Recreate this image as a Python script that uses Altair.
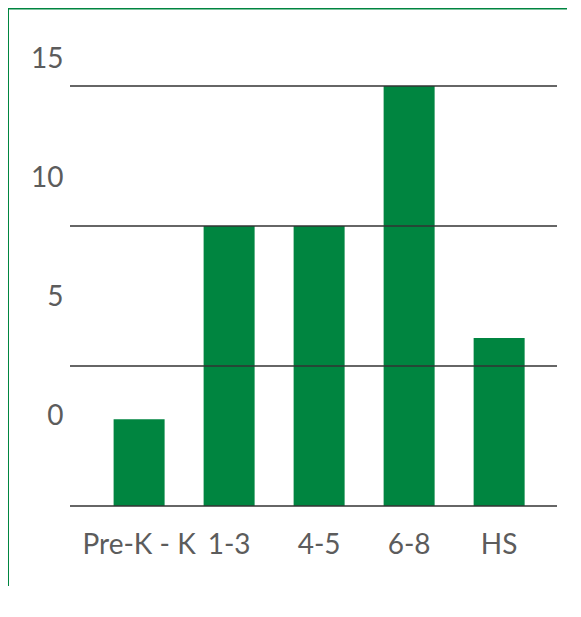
import altair as alt
import pandas as pd

grades = ["Pre-K - K", "1-3", "4-5", "6-8", "HS"]
counts = [3.1, 10, 10, 15, 6]
grid_values = [0, 5, 10, 15]
tick_labels = [0, 5, 10, 15]

GREEN = "#008540"
TEXT = "#5c5c5c"
FONT = "Lato"
W, H = 487, 449
PAD = {"left": 62, "top": 49, "right": 10, "bottom": 80}

bars_df = pd.DataFrame({"grade": grades, "count": counts})
grid_df = pd.DataFrame({"g": grid_values})
lab_df = pd.DataFrame({"t": tick_labels})
border_df = pd.DataFrame({"k": [0]})

ydom = [0, 15 * H / 420]

bars = alt.Chart(bars_df).mark_bar(color=GREEN).encode(
    x=alt.X(
        "grade:N", sort=grades, title=None,
        scale=alt.Scale(paddingInner=0.4333, paddingOuter=0.422, align=0.574),
        axis=alt.Axis(labelFont=FONT, labelFontSize=28, labelColor=TEXT,
                      labelPadding=25, ticks=False, tickSize=0, domain=False,
                      labelAngle=0, grid=False),
    ),
    y=alt.Y("count:Q", scale=alt.Scale(domain=ydom, nice=False, zero=True), axis=None),
)

grid = alt.Chart(grid_df).mark_rule(color="#333333", strokeWidth=1.5).encode(
    y=alt.Y("g:Q", scale=alt.Scale(domain=ydom, nice=False), axis=None),
    x=alt.value(0),
    x2=alt.value(W),
)

labels = alt.Chart(lab_df).mark_point(opacity=0).encode(
    y=alt.Y(
        "t:Q",
        scale=alt.Scale(domain=[-3.866, 15], nice=False, zero=False),
        axis=alt.Axis(orient="left", values=tick_labels, title=None, grid=False,
                      domain=False, ticks=False, tickSize=0, labelPadding=7,
                      labelOffset=2.5,
                      labelFont=FONT, labelFontSize=28, labelColor=TEXT,
                      labelFlush=False, format="d"),
    )
)

top_band = alt.Chart(border_df).mark_rect(color=GREEN).encode(
    x=alt.value(-62), x2=alt.value(W + 10), y=alt.value(-49), y2=alt.value(-47.5)
)
left_line = alt.Chart(border_df).mark_rect(color=GREEN).encode(
    x=alt.value(-62), x2=alt.value(-61), y=alt.value(-49), y2=alt.value(H + 80)
)

chart = (
    alt.layer(left_line, top_band, bars, grid, labels)
    .resolve_scale(y="independent")
    .properties(width=W, height=H, padding=PAD,
                autosize=alt.AutoSizeParams(type="none"), background="white")
    .configure_view(strokeWidth=0)
)

chart.save("out.html", embed_options={"renderer": "svg", "actions": False})
